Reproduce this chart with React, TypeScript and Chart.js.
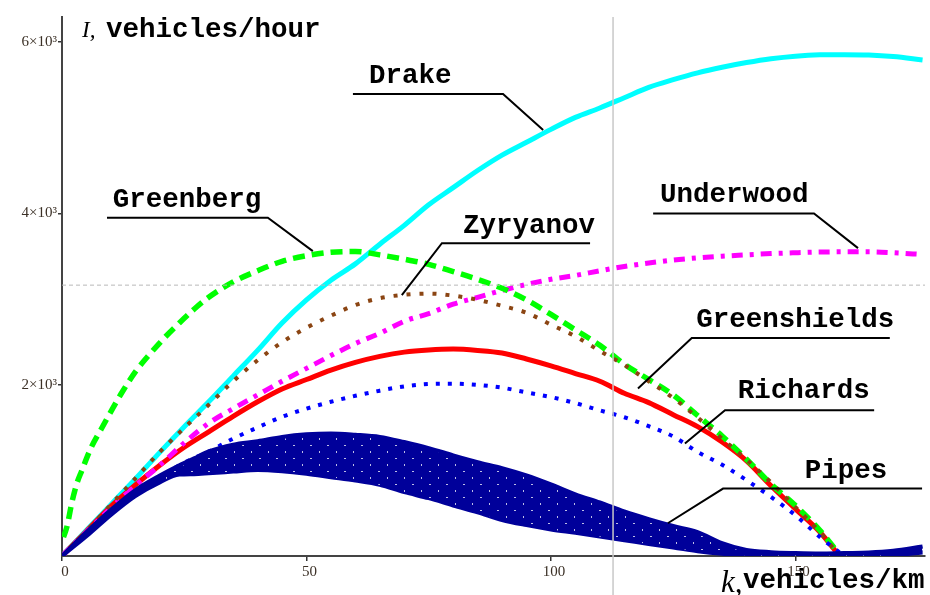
import { useEffect, useRef } from "react";
import { Chart, registerables } from "chart.js";

Chart.register(...registerables);

// ---- data (k in vehicles/km, I in vehicles/hour) ----
const kDrake = [0, 5, 10, 15, 20, 25, 30, 35, 40, 45, 50, 55, 60, 65, 70, 75, 80, 85, 90, 95, 100, 105, 110, 115, 120, 125, 130, 135, 140, 145, 150, 155, 160, 165, 170, 176];
const iDrake = [0, 300, 600, 900, 1210, 1510, 1800, 2100, 2400, 2720, 2990, 3220, 3410, 3640, 3860, 4100, 4300, 4500, 4680, 4830, 4980, 5120, 5230, 5350, 5470, 5560, 5640, 5705, 5760, 5805, 5835, 5850, 5852, 5848, 5830, 5790];

const kGreenshields = [0, 5, 10, 15, 20, 25, 30, 35, 40, 45, 50, 55, 60, 65, 70, 75, 80, 85, 90, 95, 100, 105, 110, 115, 120, 125, 130, 135, 140, 145, 150, 155, 159];
const iGreenshields = [0, 290, 580, 830, 1060, 1270, 1450, 1630, 1800, 1950, 2060, 2170, 2260, 2330, 2380, 2405, 2415, 2400, 2370, 2300, 2220, 2130, 2040, 1900, 1790, 1650, 1510, 1330, 1110, 820, 550, 280, 0];

const kUnderwood = [0, 5, 10, 15, 20, 25, 30, 35, 40, 45, 50, 55, 60, 65, 70, 75, 80, 85, 90, 95, 100, 105, 110, 115, 120, 125, 130, 135, 140, 145, 150, 155, 160, 165, 170, 176];
const iUnderwood = [0, 280, 560, 820, 1060, 1320, 1550, 1720, 1880, 2040, 2190, 2340, 2480, 2600, 2740, 2830, 2940, 3020, 3100, 3170, 3230, 3275, 3330, 3380, 3420, 3455, 3480, 3500, 3515, 3530, 3540, 3548, 3551, 3551, 3540, 3520];

const kGreenberg = [0.3, 1, 2, 3, 4, 6, 8, 10, 12, 15, 18, 21, 24, 27, 30, 35, 40, 45, 50, 55, 60, 65, 70, 75, 80, 85, 90, 95, 100, 105, 110, 115, 120, 125, 130, 135, 140, 145, 150, 155, 159];
const iGreenberg = [220, 340, 620, 840, 990, 1270, 1480, 1685, 1885, 2150, 2360, 2550, 2720, 2880, 3020, 3200, 3330, 3440, 3505, 3545, 3555, 3515, 3465, 3405, 3320, 3230, 3125, 2990, 2820, 2640, 2460, 2240, 2060, 1880, 1640, 1400, 1130, 840, 590, 300, 20];

const kZyryanov = [0, 5, 10, 15, 20, 25, 30, 35, 40, 45, 50, 55, 60, 65, 70, 75, 80, 85, 90, 95, 100, 105, 110, 115, 120, 125, 130, 135, 140, 145, 150, 155, 159];
const iZyryanov = [0, 290, 600, 905, 1215, 1495, 1765, 2040, 2285, 2495, 2665, 2805, 2930, 3010, 3050, 3063, 3040, 2990, 2920, 2840, 2700, 2565, 2394, 2230, 2040, 1845, 1615, 1370, 1125, 860, 570, 280, 0];

const kRichards = [0, 5, 10, 15, 20, 25, 30, 35, 40, 45, 50, 55, 60, 65, 70, 75, 80, 85, 90, 95, 100, 105, 110, 115, 120, 125, 130, 135, 140, 145, 150, 155, 159.5];
const iRichards = [0, 250, 490, 720, 920, 1090, 1220, 1370, 1500, 1625, 1720, 1800, 1870, 1930, 1980, 2008, 2012, 1998, 1965, 1910, 1855, 1785, 1700, 1620, 1515, 1395, 1215, 1065, 885, 690, 475, 222, 20];

const kPipes = [0, 5, 10, 15, 20, 24, 27, 30, 35, 40, 45, 50, 55, 60, 65, 70, 75, 80, 85, 90, 95, 100, 105, 110, 115, 120, 125, 130, 135, 140, 145, 150, 155, 160, 165, 170, 176];
const iPipesUpper = [0, 280, 540, 770, 940, 1060, 1140, 1220, 1300, 1340, 1390, 1420, 1430, 1415, 1390, 1330, 1260, 1175, 1095, 1025, 940, 835, 720, 625, 520, 430, 350, 280, 150, 70, 45, 35, 30, 35, 40, 60, 110];
const iPipesLower = [0, 230, 480, 700, 860, 950, 955, 965, 985, 1005, 990, 960, 920, 880, 830, 745, 675, 590, 510, 420, 360, 310, 270, 228, 185, 140, 100, 55, 25, 10, 5, 5, 5, 5, 5, 10, 40];

const xTicks = [0, 50, 100, 150];
const xTickLabels = ["0", "50", "100", "150"];
const yTicks = [2000, 4000, 6000];
const yTickLabels = ["2×10³", "4×10³", "6×10³"];
const xMax = 176.5;
const yMax = 6292;
const cursorK = 112.7;
const cursorI = 3162;

// label annotations: text, text anchor (left, baseline) and leader path in data units
const notes = [
  { text: "Drake", k: 62.8, i: 5521, path: [[59.5, 5393], [90.2, 5393], [98.4, 4972]] },
  { text: "Greenberg", k: 10.4, i: 4076, path: [[9.2, 3950], [42.1, 3950], [51.3, 3559]] },
  { text: "Zyryanov", k: 82.0, i: 3766, path: [[108.0, 3652], [77.7, 3652], [69.5, 3045]] },
  { text: "Underwood", k: 122.3, i: 4135, path: [[120.9, 3999], [153.8, 3999], [162.8, 3594]] },
  { text: "Greenshields", k: 129.7, i: 2675, path: [[169.3, 2546], [128.8, 2546], [117.8, 1955]] },
  { text: "Richards", k: 138.2, i: 1850, path: [[166.1, 1702], [135.6, 1702], [127.4, 1313]] },
  { text: "Pipes", k: 151.9, i: 916, path: [[175.9, 787], [135.2, 787], [123.9, 382]] },
];

const pts = (ks: number[], is: number[]) => ks.map((k, n) => ({ x: k, y: is[n] }));

const MONO = "'Liberation Mono', 'Courier New', monospace";
const SERIF = "'Liberation Serif', 'Times New Roman', serif";
const NAVY = "#00009a";

function makePattern(): CanvasPattern | string {
  const c = document.createElement("canvas");
  c.width = 17;
  c.height = 13;
  const g = c.getContext("2d");
  if (!g) return NAVY;
  g.fillStyle = NAVY;
  g.fillRect(0, 0, 17, 13);
  g.fillStyle = "rgba(255,255,255,0.75)";
  g.fillRect(4, 3, 2, 1);
  g.fillRect(13, 9, 1, 2);
  const p = g.createPattern(c, "repeat");
  return p || NAVY;
}

const overlayPlugin = {
  id: "overlay",
  afterDatasetsDraw(chart: any) {
    const { ctx, chartArea, scales } = chart;
    const xs = scales.x;
    const ys = scales.y;
    ctx.save();
    // cursor crosshair
    ctx.strokeStyle = "#c8c8c8";
    ctx.lineWidth = 1.5;
    const cx = xs.getPixelForValue(cursorK);
    ctx.beginPath();
    ctx.moveTo(cx, chartArea.top);
    ctx.lineTo(cx, chart.height);
    ctx.stroke();
    ctx.setLineDash([4, 3]);
    ctx.lineWidth = 1;
    ctx.strokeStyle = "#b8b8b8";
    const cy = ys.getPixelForValue(cursorI);
    ctx.beginPath();
    ctx.moveTo(chartArea.left, cy);
    ctx.lineTo(chartArea.right, cy);
    ctx.stroke();
    ctx.setLineDash([]);

    // annotations
    ctx.strokeStyle = "#000";
    ctx.lineWidth = 2;
    ctx.fillStyle = "#000";
    ctx.font = `bold 27.5px ${MONO}`;
    ctx.textAlign = "left";
    ctx.textBaseline = "alphabetic";
    for (const n of notes) {
      ctx.beginPath();
      n.path.forEach((p, j) => {
        const px = xs.getPixelForValue(p[0]);
        const py = ys.getPixelForValue(p[1]);
        if (j === 0) ctx.moveTo(px, py);
        else ctx.lineTo(px, py);
      });
      ctx.stroke();
      ctx.fillText(n.text, xs.getPixelForValue(n.k), ys.getPixelForValue(n.i));
    }

    // axis titles
    const L = chartArea.left;
    const T = chartArea.top;
    ctx.font = `italic 23px ${SERIF}`;
    ctx.fillText("I,", L + 20, T + 20);
    ctx.font = `bold 27.5px ${MONO}`;
    ctx.fillText("vehicles/hour", L + 44, T + 20);
    const B = chartArea.bottom;
    const R = chartArea.right;
    ctx.font = `italic 31px ${SERIF}`;
    ctx.fillText("k,", R - 204, B + 36);
    ctx.font = `bold 27.5px ${MONO}`;
    ctx.fillText("vehicles/km", R - 182, B + 32);
    ctx.restore();
  },
};

export default function App() {
  const ref = useRef<HTMLCanvasElement | null>(null);

  useEffect(() => {
    if (!ref.current) return;
    const line = (label: string, data: any[], color: string, width: number, dash: number[] = []) => ({
      label,
      data,
      borderColor: color,
      backgroundColor: color,
      borderWidth: width,
      borderDash: dash,
      borderCapStyle: "butt",
      pointRadius: 0,
      fill: false,
      cubicInterpolationMode: "monotone",
    });
    const pattern = makePattern();
    const chart = new Chart(ref.current, {
      type: "line",
      data: {
        datasets: [
          { ...line("Pipes", pts(kPipes, iPipesUpper), NAVY, 4), fill: "+1", backgroundColor: pattern, order: 1 },
          { ...line("Pipes lower", pts(kPipes, iPipesLower), NAVY, 4), order: 2 },
          { ...line("Richards", pts(kRichards, iRichards), "#0000ff", 4, [4, 8]), order: 3 },
          { ...line("Zyryanov", pts(kZyryanov, iZyryanov), "#8b4513", 4, [4, 9]), order: 4 },
          { ...line("Greenberg", pts(kGreenberg, iGreenberg), "#00ff00", 5.5, [12, 7]), order: 5 },
          { ...line("Underwood", pts(kUnderwood, iUnderwood), "#ff00ff", 5, [11, 7, 4, 7]), order: 6 },
          { ...line("Greenshields", pts(kGreenshields, iGreenshields), "#ff0000", 5), order: 7 },
          { ...line("Drake", pts(kDrake, iDrake), "#00ffff", 5), order: 8 },
        ] as any,
      },
      options: {
        animation: false,
        responsive: false,
        parsing: false as any,
        layout: { padding: { top: 17, right: 5, left: 0, bottom: 0 } },
        plugins: { legend: { display: false }, tooltip: { enabled: false } },
        scales: {
          x: {
            type: "linear",
            min: 0,
            max: xMax,
            afterBuildTicks: (s: any) => {
              s.ticks = xTicks.map((v) => ({ value: v }));
            },
            afterFit: (s: any) => {
              s.height = 39;
            },
            ticks: {
              callback: (v: any) => xTickLabels[xTicks.indexOf(Number(v))] ?? "",
              font: { family: SERIF, size: 15 },
              color: "#3b3026",
              padding: 2,
              labelOffset: 3,
              maxRotation: 0,
              autoSkip: false,
            },
            grid: { drawOnChartArea: false, drawTicks: true, tickLength: 5, color: "#333", lineWidth: 1.5 },
            border: { display: true, color: "#444", width: 2 },
          },
          y: {
            type: "linear",
            min: 0,
            max: yMax,
            afterBuildTicks: (s: any) => {
              s.ticks = yTicks.map((v) => ({ value: v }));
            },
            afterFit: (s: any) => {
              s.width = 62;
            },
            ticks: {
              callback: (v: any) => yTickLabels[yTicks.indexOf(Number(v))] ?? "",
              font: { family: SERIF, size: 15 },
              color: "#3b3026",
              padding: 1,
              autoSkip: false,
            },
            grid: { drawOnChartArea: false, drawTicks: true, tickLength: 4, color: "#333", lineWidth: 1.5 },
            border: { display: true, color: "#444", width: 2 },
          },
        },
      },
      plugins: [overlayPlugin],
    });
    return () => chart.destroy();
  }, []);

  return (
    <div style={{ position: "fixed", left: 0, top: 0, width: 930, height: 595, background: "#fff" }}>
      <canvas ref={ref} width={930} height={595} style={{ width: 930, height: 595, display: "block" }} />
    </div>
  );
}
